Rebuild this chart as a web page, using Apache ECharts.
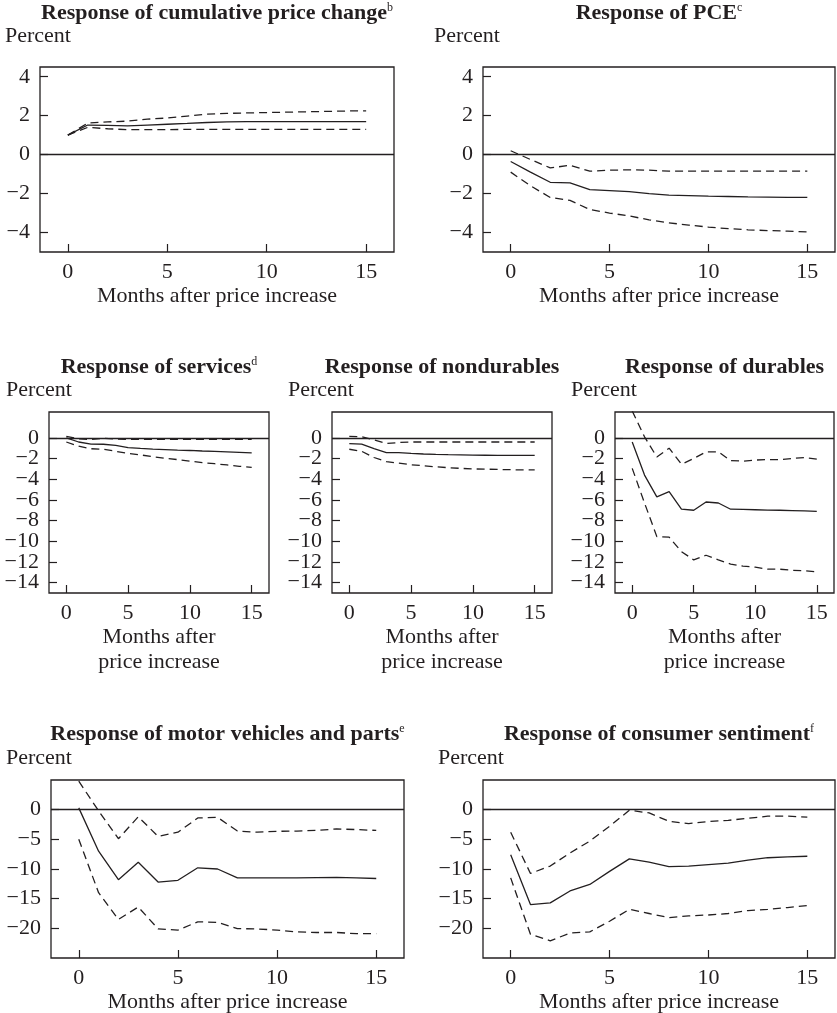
<!DOCTYPE html>
<html>
<head>
  <meta charset="utf-8">
  <script src="https://cdn.jsdelivr.net/npm/echarts@6.0.0/dist/echarts.min.js"></script>
  <style>
    body { margin: 0; padding: 0; background: #fff; }
    #chart { width: 837px; height: 1013px; }
  </style>
</head>
<body>
  <div id="chart"></div>
  <script>
    // months after the price increase
    const months = [0, 1, 2, 3, 4, 5, 6, 7, 8, 9, 10, 11, 12, 13, 14, 15];

    const priceMid = [1.0, 1.52, 1.5, 1.48, 1.52, 1.56, 1.6, 1.65, 1.68, 1.69, 1.69, 1.7, 1.7, 1.7, 1.7, 1.7];
    const priceHi = [1.0, 1.62, 1.68, 1.72, 1.82, 1.88, 1.98, 2.08, 2.12, 2.14, 2.16, 2.18, 2.2, 2.22, 2.24, 2.25];
    const priceLo = [1.0, 1.4, 1.33, 1.28, 1.28, 1.28, 1.3, 1.3, 1.3, 1.3, 1.3, 1.3, 1.3, 1.3, 1.3, 1.3];

    const pceMid = [-0.35, -0.9, -1.42, -1.45, -1.8, -1.85, -1.9, -2.0, -2.08, -2.1, -2.13, -2.15, -2.17, -2.18, -2.19, -2.2];
    const pceHi = [0.2, -0.25, -0.68, -0.55, -0.85, -0.8, -0.78, -0.8, -0.85, -0.85, -0.85, -0.85, -0.85, -0.85, -0.85, -0.85];
    const pceLo = [-0.9, -1.6, -2.2, -2.35, -2.82, -3.0, -3.15, -3.35, -3.5, -3.62, -3.72, -3.8, -3.86, -3.9, -3.93, -3.97];

    const servMid = [0, -0.4, -0.6, -0.62, -0.72, -0.95, -1.02, -1.08, -1.13, -1.18, -1.22, -1.27, -1.3, -1.35, -1.4, -1.45];
    const servHi = [0.15, -0.1, -0.15, -0.05, -0.1, -0.15, -0.15, -0.15, -0.15, -0.15, -0.15, -0.15, -0.15, -0.15, -0.15, -0.15];
    const servLo = [-0.4, -0.8, -1.05, -1.1, -1.3, -1.5, -1.65, -1.82, -1.98, -2.1, -2.25, -2.4, -2.5, -2.62, -2.75, -2.85];

    const nondMid = [-0.55, -0.6, -1.05, -1.42, -1.42, -1.5, -1.56, -1.6, -1.63, -1.65, -1.67, -1.68, -1.69, -1.7, -1.7, -1.7];
    const nondHi = [0.15, 0.1, -0.2, -0.55, -0.45, -0.4, -0.4, -0.4, -0.4, -0.4, -0.4, -0.4, -0.4, -0.4, -0.4, -0.4];
    const nondLo = [-1.1, -1.3, -1.9, -2.3, -2.45, -2.6, -2.7, -2.8, -2.88, -2.95, -3.0, -3.03, -3.05, -3.08, -3.1, -3.1];

    const durMid = [-0.4, -3.6, -5.7, -5.2, -6.9, -7.0, -6.2, -6.3, -6.9, -6.92, -6.95, -6.98, -7.0, -7.03, -7.06, -7.1];
    const durHi = [2.6, 0.1, -1.85, -1.0, -2.55, -2.0, -1.35, -1.35, -2.2, -2.25, -2.15, -2.1, -2.1, -2.0, -1.9, -2.05];
    const durLo = [-2.95, -6.3, -9.55, -9.6, -11.0, -11.8, -11.35, -11.8, -12.2, -12.4, -12.5, -12.7, -12.7, -12.8, -12.85, -12.95];

    const motorMid = [0.3, -7.0, -11.8, -8.85, -12.2, -11.9, -9.8, -10.0, -11.5, -11.5, -11.5, -11.5, -11.45, -11.4, -11.5, -11.6];
    const motorHi = [4.8, -0.2, -4.9, -1.2, -4.5, -3.8, -1.4, -1.3, -3.6, -3.8, -3.65, -3.6, -3.5, -3.25, -3.35, -3.5];
    const motorLo = [-5.0, -14.0, -18.5, -16.4, -20.1, -20.3, -18.9, -19.0, -20.05, -20.1, -20.3, -20.6, -20.7, -20.7, -20.9, -20.9];

    const sentMid = [-7.6, -16.0, -15.7, -13.7, -12.6, -10.4, -8.3, -8.85, -9.6, -9.5, -9.25, -9.0, -8.5, -8.1, -7.95, -7.85];
    const sentHi = [-3.8, -10.75, -9.5, -7.3, -5.3, -2.8, -0.1, -0.55, -1.95, -2.35, -2.0, -1.8, -1.45, -1.1, -1.1, -1.25];
    const sentLo = [-11.5, -21.0, -22.1, -20.8, -20.6, -18.8, -16.8, -17.5, -18.2, -17.9, -17.75, -17.5, -17.0, -16.8, -16.5, -16.15];

    const xTicks = [0, 5, 10, 15];
    const yTicksTop = [-4, -2, 0, 2, 4];
    const yTicksMid = [-14, -12, -10, -8, -6, -4, -2, 0];
    const yTicksBot = [-20, -15, -10, -5, 0];

    const ink = '#231f20';
    const font = "'Liberation Serif', 'DejaVu Serif', serif";
    const xName = 'Months after price increase';
    const xName2 = 'Months after\nprice increase';

    const panels = [
      { title: 'Response of cumulative price change', sup: 'b', data: [priceMid, priceHi, priceLo],
        box: [40, 67, 354, 185], y: [-5, 4.5], ticks: yTicksTop, name: xName, gap: 31,
        titleY: 13, pctX: 5, pctY: 36 },
      { title: 'Response of PCE', sup: 'c', data: [pceMid, pceHi, pceLo],
        box: [483, 67, 352, 185], y: [-5, 4.5], ticks: yTicksTop, name: xName, gap: 31,
        titleY: 13, pctX: 434, pctY: 36 },
      { title: 'Response of services', sup: 'd', data: [servMid, servHi, servLo],
        box: [49, 412, 220, 181], y: [-15, 2.5], ticks: yTicksMid, name: xName2, gap: 30,
        titleY: 367, pctX: 6, pctY: 390 },
      { title: 'Response of nondurables', sup: '', data: [nondMid, nondHi, nondLo],
        box: [332, 412, 220, 181], y: [-15, 2.5], ticks: yTicksMid, name: xName2, gap: 30,
        titleY: 367, pctX: 288, pctY: 390 },
      { title: 'Response of durables', sup: '', data: [durMid, durHi, durLo],
        box: [615, 412, 219, 181], y: [-15, 2.5], ticks: yTicksMid, name: xName2, gap: 30,
        titleY: 367, pctX: 571, pctY: 390 },
      { title: 'Response of motor vehicles and parts', sup: 'e', data: [motorMid, motorHi, motorLo],
        box: [51, 780, 353, 178], y: [-25, 5], ticks: yTicksBot, name: xName, gap: 31,
        titleY: 734, pctX: 6, pctY: 758 },
      { title: 'Response of consumer sentiment', sup: 'f', data: [sentMid, sentHi, sentLo],
        box: [483, 780, 352, 178], y: [-25, 5], ticks: yTicksBot, name: xName, gap: 31,
        titleY: 734, pctX: 438, pctY: 758 }
    ];

    const grids = [], xAxes = [], yAxes = [], series = [], graphics = [];

    const yLabelStyle = {
      margin: 10, fontSize: 22, fontFamily: font, color: ink,
      showMinLabel: true, showMaxLabel: true,
      formatter: v => String(v).replace('-', '\u2212')
    };

    panels.forEach((p, i) => {
      const [left, top, width, height] = p.box;
      grids.push({
        left, top, width, height,
        show: true, borderColor: ink, borderWidth: 1.3,
        containLabel: false, outerBoundsMode: 'none'
      });
      xAxes.push({
        gridIndex: i, type: 'value', min: -1.4, max: 16.4,
        axisLine: { show: false, onZero: false },
        splitLine: { show: false },
        axisTick: { inside: true, length: 8, customValues: xTicks, lineStyle: { color: ink, width: 1.2 } },
        axisLabel: {
          customValues: xTicks, margin: 9, fontSize: 22, fontFamily: font, color: ink,
          showMinLabel: true, showMaxLabel: true
        },
        name: p.name, nameLocation: 'middle', nameGap: p.gap,
        nameTextStyle: { fontSize: 22, lineHeight: 25, fontFamily: font, color: ink }
      });
      // tick labels sit close together, so they are split over two
      // overlapping left axes to keep the library from dropping any
      const labelsA = p.ticks.filter((t, k) => k % 2 === 0);
      const labelsB = p.ticks.filter((t, k) => k % 2 === 1);
      yAxes.push({
        gridIndex: i, type: 'value', position: 'left', min: p.y[0], max: p.y[1],
        axisLine: { show: false, onZero: false },
        splitLine: { show: false },
        axisTick: { inside: true, length: 8, customValues: p.ticks, lineStyle: { color: ink, width: 1.2 } },
        axisLabel: Object.assign({ customValues: labelsA }, yLabelStyle)
      });
      yAxes.push({
        gridIndex: i, type: 'value', position: 'left', min: p.y[0], max: p.y[1],
        axisLine: { show: false, onZero: false },
        splitLine: { show: false },
        axisTick: { show: false },
        axisLabel: Object.assign({ customValues: labelsB }, yLabelStyle)
      });
      const lines = [
        { values: p.data[0], dash: 'solid' },
        { values: p.data[1], dash: [8, 5] },
        { values: p.data[2], dash: [8, 5] }
      ];
      lines.forEach((l, k) => {
        const s = {
          type: 'line', xAxisIndex: i, yAxisIndex: 2 * i,
          data: months.map((m, j) => [m, l.values[j]]),
          showSymbol: false, symbol: 'none', clip: true, silent: true,
          lineStyle: { color: ink, width: 1.3, type: l.dash }
        };
        if (k === 0) {
          s.markLine = {
            silent: true, symbol: ['none', 'none'], label: { show: false },
            lineStyle: { color: ink, width: 1.3, type: 'solid' },
            data: [{ yAxis: 0 }]
          };
        }
        series.push(s);
      });

      graphics.push({
        type: 'text', x: left + width / 2, y: p.titleY,
        style: {
          text: p.title + (p.sup ? '{sup|' + p.sup + '}' : ''),
          font: 'bold 22px ' + font, fill: ink,
          align: 'center', verticalAlign: 'middle',
          rich: { sup: { fontSize: 12, fontWeight: 'normal', fontFamily: font, fill: ink, verticalAlign: 'top', padding: [0, 0, 10, 0] } }
        }
      });
      graphics.push({
        type: 'text', x: p.pctX, y: p.pctY,
        style: { text: 'Percent', font: '22px ' + font, fill: ink, align: 'left', verticalAlign: 'middle' }
      });
    });

    const chart = echarts.init(document.getElementById('chart'));
    chart.setOption({
      animation: false,
      backgroundColor: '#fff',
      grid: grids,
      xAxis: xAxes,
      yAxis: yAxes,
      series: series,
      graphic: graphics
    });
  </script>
</body>
</html>
